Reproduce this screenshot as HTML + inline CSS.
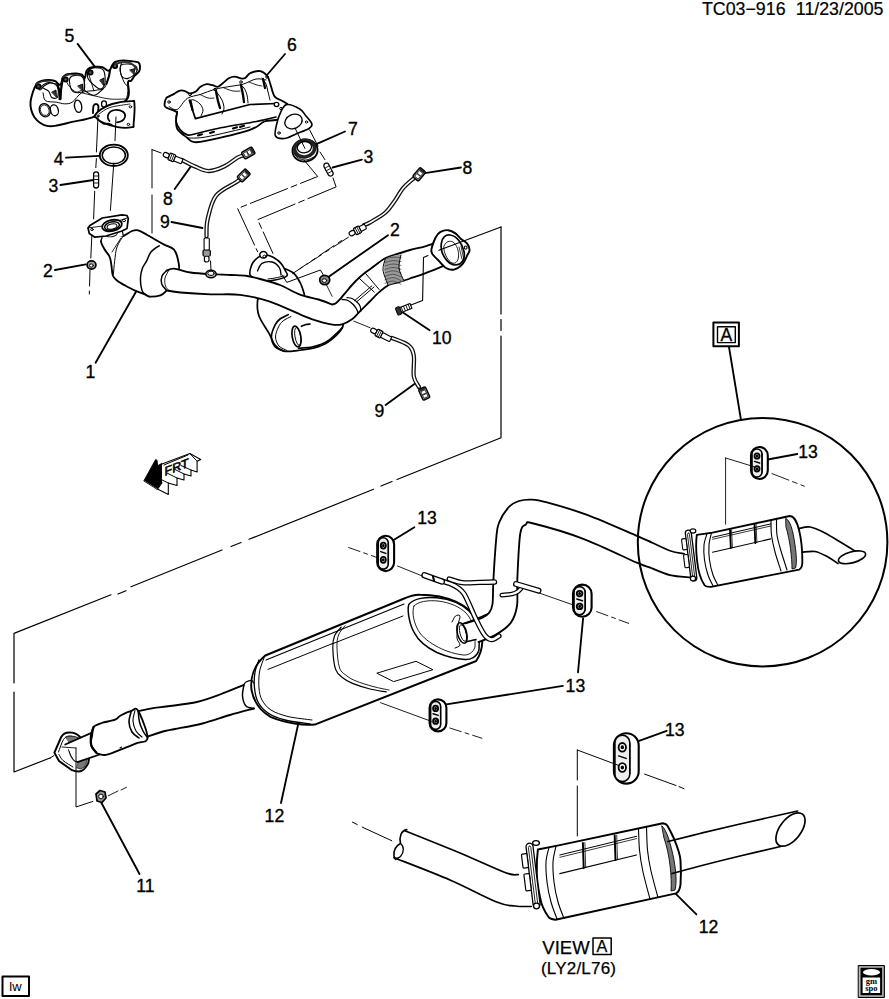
<!DOCTYPE html>
<html><head><meta charset="utf-8"><style>
html,body{margin:0;padding:0;background:#fff;width:889px;height:999px;overflow:hidden}
svg{display:block}
text{font-family:"Liberation Sans",sans-serif;fill:#000}
</style></head><body>
<svg width="889" height="999" viewBox="0 0 889 999" stroke-linecap="round" stroke-linejoin="round">
<text x="702" y="15.2" font-size="17.8" text-anchor="start" stroke="#000" stroke-width="0.2">TC03&#8722;916</text>
<text x="883.5" y="15.2" font-size="17.8" text-anchor="end" stroke="#000" stroke-width="0.2">11/23/2005</text>
<rect x="2.5" y="976.5" width="26.5" height="19.5" fill="none" stroke="#000" stroke-width="2"/>
<text x="15.5" y="990.5" font-size="13" text-anchor="middle" >lw</text>
<rect x="858.6" y="965.5" width="25.8" height="32" fill="#888" stroke="#000" stroke-width="1"/>
<rect x="860.3" y="967.2" width="22.4" height="28.6" fill="#000" stroke="#fff" stroke-width="0.7"/>
<ellipse cx="871.5" cy="972.2" rx="8.5" ry="3.2" fill="#fff"/>
<rect x="862.6" y="977.5" width="17.5" height="15.5" fill="#fff"/>
<text x="871.3" y="984.3" font-size="8.5" font-weight="bold" text-anchor="middle" style="font-family:'Liberation Serif',serif">gm</text>
<text x="871.3" y="990.6" font-size="8.5" font-weight="bold" text-anchor="middle" style="font-family:'Liberation Serif',serif">spo</text>
<text x="69.5" y="41.8" font-size="17.6" text-anchor="middle" stroke="#000" stroke-width="0.35">5</text>
<text x="292" y="50.8" font-size="17.6" text-anchor="middle" stroke="#000" stroke-width="0.35">6</text>
<text x="353" y="134.8" font-size="17.6" text-anchor="middle" stroke="#000" stroke-width="0.35">7</text>
<text x="368.5" y="162.8" font-size="17.6" text-anchor="middle" stroke="#000" stroke-width="0.35">3</text>
<text x="467.5" y="173.8" font-size="17.6" text-anchor="middle" stroke="#000" stroke-width="0.35">8</text>
<text x="395" y="235.8" font-size="17.6" text-anchor="middle" stroke="#000" stroke-width="0.35">2</text>
<text x="58.7" y="165.2" font-size="17.6" text-anchor="middle" stroke="#000" stroke-width="0.35">4</text>
<text x="53.3" y="192.2" font-size="17.6" text-anchor="middle" stroke="#000" stroke-width="0.35">3</text>
<text x="168" y="204.8" font-size="17.6" text-anchor="middle" stroke="#000" stroke-width="0.35">8</text>
<text x="165" y="227.8" font-size="17.6" text-anchor="middle" stroke="#000" stroke-width="0.35">9</text>
<text x="47.8" y="276.8" font-size="17.6" text-anchor="middle" stroke="#000" stroke-width="0.35">2</text>
<text x="90.5" y="377.8" font-size="17.6" text-anchor="middle" stroke="#000" stroke-width="0.35">1</text>
<text x="441.8" y="343.8" font-size="17.6" text-anchor="middle" stroke="#000" stroke-width="0.35">10</text>
<text x="379.3" y="417.4" font-size="17.6" text-anchor="middle" stroke="#000" stroke-width="0.35">9</text>
<text x="427" y="523.8" font-size="17.6" text-anchor="middle" stroke="#000" stroke-width="0.35">13</text>
<text x="575.4" y="692.4" font-size="17.6" text-anchor="middle" stroke="#000" stroke-width="0.35">13</text>
<text x="808" y="457.8" font-size="17.6" text-anchor="middle" stroke="#000" stroke-width="0.35">13</text>
<text x="674.8" y="736" font-size="17.6" text-anchor="middle" stroke="#000" stroke-width="0.35">13</text>
<text x="274.4" y="821.8" font-size="17.6" text-anchor="middle" stroke="#000" stroke-width="0.35">12</text>
<text x="708.5" y="932.8" font-size="17.6" text-anchor="middle" stroke="#000" stroke-width="0.35">12</text>
<text x="145.4" y="892.4" font-size="17.6" text-anchor="middle" stroke="#000" stroke-width="0.35">11</text>
<text x="566" y="953.6" font-size="18.5" text-anchor="middle" stroke="#000" stroke-width="0.25">VIEW</text>
<rect x="593" y="938" width="18.2" height="16.4" fill="none" stroke="#000" stroke-width="1.5"/>
<text x="602" y="951.9" font-size="16.2" text-anchor="middle" stroke="#000" stroke-width="0.25">A</text>
<text x="578.6" y="973.5" font-size="17" text-anchor="middle" stroke="#000" stroke-width="0.25" letter-spacing="0.2">(LY2/L76)</text>
<rect x="713.4" y="322.5" width="25.5" height="23.7" fill="none" stroke="#000" stroke-width="2"/>
<rect x="717.5" y="326.8" width="17.8" height="15.8" fill="none" stroke="#000" stroke-width="1.4"/>
<text x="726.3" y="341" font-size="17.5" text-anchor="middle" stroke="#000" stroke-width="0.3">A</text>
<path d="M77.6,43.9 L94.5,66.4" fill="none" stroke="#000" stroke-width="1.84" />
<path d="M285,54 L267,75" fill="none" stroke="#000" stroke-width="1.84" />
<path d="M345,131.5 L316.9,143.9" fill="none" stroke="#000" stroke-width="1.84" />
<path d="M361.9,159.6 L332.6,167.5" fill="none" stroke="#000" stroke-width="1.84" />
<path d="M460.9,167.5 L424.9,173.1" fill="none" stroke="#000" stroke-width="1.84" />
<path d="M388,235.2 L327.3,277.7" fill="none" stroke="#000" stroke-width="1.84" />
<path d="M66,157.6 L99.2,155.9" fill="none" stroke="#000" stroke-width="1.84" />
<path d="M60.4,185 L93.6,180" fill="none" stroke="#000" stroke-width="1.84" />
<path d="M174.7,189 L191.6,165.4" fill="none" stroke="#000" stroke-width="1.84" />
<path d="M171.5,222 L202.5,228" fill="none" stroke="#000" stroke-width="1.84" />
<path d="M55,270 L85.8,264.4" fill="none" stroke="#000" stroke-width="1.84" />
<path d="M95.6,362.8 L136.4,291" fill="none" stroke="#000" stroke-width="1.84" />
<path d="M429.6,330.3 L402.2,312.1" fill="none" stroke="#000" stroke-width="1.84" />
<path d="M385.6,405 L416.5,382.5" fill="none" stroke="#000" stroke-width="1.84" />
<path d="M414.4,527.2 L392.4,540.7" fill="none" stroke="#000" stroke-width="1.84" />
<path d="M583.1,618.4 L578,672.4" fill="none" stroke="#000" stroke-width="1.84" />
<path d="M562.9,685.9 L446.4,704.4" fill="none" stroke="#000" stroke-width="1.84" />
<path d="M797.3,454 L767.8,459.5" fill="none" stroke="#000" stroke-width="1.84" />
<path d="M666.7,730.8 L637,741.6" fill="none" stroke="#000" stroke-width="1.84" />
<path d="M281,803 L298,725" fill="none" stroke="#000" stroke-width="1.84" />
<path d="M696.4,914.4 L674.8,892.8" fill="none" stroke="#000" stroke-width="1.84" />
<path d="M101.1,802.3 L139.5,874" fill="none" stroke="#000" stroke-width="1.84" />
<path d="M729,347 L741,420" fill="none" stroke="#000" stroke-width="1.84" />
<path d="M501,226.9 L501,314" fill="none" stroke="#000" stroke-width="1.21" />
<path d="M501,336 L501,437.7 L397,479.5" fill="none" stroke="#000" stroke-width="1.21" />
<path d="M501,319.5 L501,330.5" fill="none" stroke="#000" stroke-width="1.21" />
<path d="M392,481.5 L381,486" fill="none" stroke="#000" stroke-width="1.21" />
<path d="M373.5,489.3 L249,539.3" fill="none" stroke="#000" stroke-width="1.21" />
<path d="M241,542.5 L231,546.5" fill="none" stroke="#000" stroke-width="1.21" />
<path d="M131,586.7 L222,550" fill="none" stroke="#000" stroke-width="1.21" />
<path d="M111,594.8 L14,633.4 L14,683" fill="none" stroke="#000" stroke-width="1.21" />
<path d="M14,692 L14,772 L50.6,757.8" fill="none" stroke="#000" stroke-width="1.21" />
<path d="M126,590.7 L118,594" fill="none" stroke="#000" stroke-width="1.21" />
<path d="M30.5,102.2 C30.2,105.2 30.7,107.6 31.3,110.1 C31.9,112.6 32.9,115.1 34.4,117.2 C35.9,119.3 37.9,121.2 40,122.7 C42.1,124.2 44.5,125.4 47,125.9 C49.5,126.4 50.7,126.6 54.9,125.9 C59.1,125.2 65.5,123.5 72.2,121.9 C78.9,120.3 86,120.1 95,116.4 C104,112.8 120.9,105.7 126.4,100 C131.9,94.3 127.2,85.6 128,82.4 C128.8,79.2 130.1,81.9 131.2,80.8 C132.3,79.7 133.1,77.6 134.4,76 C135.7,74.4 138.3,72.8 139.2,71.2 C140.1,69.6 140.1,67.9 140,66.4 C139.9,64.9 139.9,63.3 138.4,62.4 C136.9,61.5 133.7,61.5 131.2,61.2 C128.7,60.9 125.9,60.3 123.2,60.4 C120.5,60.5 117.1,61.1 115.2,62 C113.3,62.9 112.9,64.3 112,65.6 C111.1,66.9 110.8,69.2 110,70 C109.2,70.8 108.5,70.9 107.2,70.4 C105.9,69.9 104.3,67.8 102.4,67.2 C100.5,66.6 98.1,66.7 96,66.8 C93.9,66.9 91.2,67.3 89.6,68 C88,68.7 87.3,69.4 86.5,71 C85.7,72.6 85.6,77.2 84.8,77.8 C84,78.4 83.1,75.4 81.7,74.7 C80.3,74 78,73.6 76.2,73.5 C74.4,73.4 72.4,73.7 70.7,73.9 C69,74.1 67.3,74.1 66,74.7 C64.7,75.3 63.6,76.2 62.8,77.8 C62,79.3 61.6,82.9 61,84 C60.4,85.1 59.8,84.9 58.9,84.5 C58,84.1 56.9,82.1 55.7,81.4 C54.5,80.7 53.6,80.4 51.8,80.2 C50,80 46.9,79.9 44.7,80.2 C42.5,80.5 39.9,81.4 38.4,82.2 C36.9,83 36.9,83.3 36,84.9 C35.1,86.5 33.8,89.1 32.9,92 C32,94.9 30.8,99.2 30.5,102.2Z" fill="#fff" stroke="#000" stroke-width="1.95" />
<path d="M36,85 C36.7,85.8 38.7,89.8 40,90 C41.3,90.2 42.3,87.2 44,86 C45.7,84.8 48,83.3 50,83 C52,82.7 55,83.8 56,84" fill="none" stroke="#000" stroke-width="1.1" />
<path d="M57.3,84.1 C57.7,85.4 59.2,89.5 59.6,92 C60,94.5 59.6,97.9 59.6,99.1" fill="none" stroke="#000" stroke-width="2.3" />
<path d="M62.8,78 C62.5,80 61.4,86.5 61,90 C60.6,93.5 60.6,97.5 60.5,99" fill="none" stroke="#000" stroke-width="2.3" />
<path d="M43.1,92.8 C43.5,94.1 43.3,99.1 45.5,100.7 C47.7,102.3 53.4,101.7 56.5,102.2 C59.6,102.7 61.8,103.8 64.4,103.8 C67,103.8 69.3,104 72.2,102.2 C75.1,100.4 77.9,94.8 81.7,92.8 C85.5,90.8 91.4,91.1 95,90.4 C98.6,89.7 101.3,89.9 103.2,88.8 C105.1,87.7 105.3,86.7 106.4,84 C107.5,81.3 109.1,74.7 109.6,72.8" fill="none" stroke="#000" stroke-width="0.99" />
<path d="M84.8,77.8 C84.7,79.2 84.2,83.9 84.2,86 C84.2,88.1 83.1,88.9 84.8,90.4 C86.5,91.9 91.3,95.5 94.4,95.2 C97.5,94.9 101.7,89.9 103.2,88.8" fill="none" stroke="#000" stroke-width="1.1" />
<path d="M66,80 C66.5,81 67.3,84 69,86 C70.7,88 73.9,91.3 76,92 C78.1,92.7 80.8,90.3 81.7,90" fill="none" stroke="#000" stroke-width="0.88" />
<path d="M106.4,84 C106.8,82.7 108.4,78.3 109,76 C109.6,73.7 109.8,71 110,70" fill="none" stroke="#000" stroke-width="2.07" />
<path d="M122,62 C121.7,63.3 119.7,66.7 120,70 C120.3,73.3 122.7,79 124,82 C125.3,85 127.6,85 128,88 C128.4,91 126.7,98 126.4,100" fill="none" stroke="#000" stroke-width="0.99" />
<path d="M88,72 L94,91" fill="none" stroke="#000" stroke-width="0.88" />
<path d="M81.7,92.8 C83.9,93.3 90.3,95 95,96 C99.7,97 104.8,98.5 110,99 C115.2,99.5 123.3,99 126,99" fill="none" stroke="#000" stroke-width="0.88" />
<path d="M41.5,86.5 C41.5,85.1 46.4,83 48.6,82.6 C50.8,82.2 53.3,83 54.9,84.1 C56.5,85.1 57.7,86.7 58.1,88.9 C58.5,91.1 58.3,96.1 57.3,97.5 C56.2,98.9 53.2,98.5 51.8,97.5 C50.3,96.5 50.3,93 48.6,91.2 C46.9,89.4 41.5,87.9 41.5,86.5Z" fill="none" stroke="#000" stroke-width="1.1" />
<path d="M70.7,77 C72.4,75.4 77.9,74.8 80.1,75.5 C82.3,76.2 83.6,78.4 84.1,81 C84.6,83.6 85,89.4 83.3,91.2 C81.6,93 76,93 73.8,92 C71.6,91 70.4,87.4 69.9,84.9 C69.4,82.4 69,78.6 70.7,77Z" fill="none" stroke="#000" stroke-width="1.1" />
<path d="M89.6,69.6 C91.3,67.9 96,67.7 98.4,68 C100.8,68.3 102.9,68.5 104,71.2 C105.1,73.9 105.6,81.1 104.8,84 C104,86.9 102,89.7 99.2,88.8 C96.4,87.9 89.6,81.6 88,78.4 C86.4,75.2 87.9,71.3 89.6,69.6Z" fill="none" stroke="#000" stroke-width="1.1" />
<path d="M120.8,65.6 C121.9,63.6 125.5,63.9 128,64 C130.5,64.1 134.7,64.9 136,66.4 C137.3,67.9 137.3,70.8 136,72.8 C134.7,74.8 130.4,77.9 128,78.4 C125.6,78.9 122.8,78.1 121.6,76 C120.4,73.9 119.7,67.6 120.8,65.6Z" fill="none" stroke="#000" stroke-width="1.1" />
<path d="M52,92 L56,90 L56.5,97Z" fill="#333" stroke="#000" stroke-width="0.88" />
<path d="M78,86 L82.5,84 L82.5,90.5Z" fill="#333" stroke="#000" stroke-width="0.88" />
<path d="M100,80 L104,78 L103.5,85Z" fill="#333" stroke="#000" stroke-width="0.88" />
<path d="M130,70 L135,68.5 L134,74Z" fill="#333" stroke="#000" stroke-width="0.88" />
<ellipse cx="38.4" cy="86.5" rx="2.2" ry="2.1" fill="#555" stroke="#000" stroke-width="1.84" transform="rotate(0 38.4 86.5)" />
<ellipse cx="65.6" cy="79.4" rx="2.2" ry="2.1" fill="#555" stroke="#000" stroke-width="1.84" transform="rotate(0 65.6 79.4)" />
<ellipse cx="90.4" cy="72.5" rx="2.2" ry="2.1" fill="#555" stroke="#000" stroke-width="1.84" transform="rotate(0 90.4 72.5)" />
<ellipse cx="115" cy="66" rx="2.2" ry="2.1" fill="#555" stroke="#000" stroke-width="1.84" transform="rotate(0 115 66)" />
<path d="M115,64 C116.7,63.7 122.2,62 125,62 C127.8,62 130,62.7 132,64 C134,65.3 136.2,69 137,70" fill="none" stroke-width="1.84" stroke="#333"/>
<path d="M36,84 C37,83.6 39.7,82 42,81.5 C44.3,81 48.7,81.1 50,81" fill="none" stroke-width="1.61" stroke="#333"/>
<path d="M63,77 C64.2,76.6 67.2,74.8 70,74.5 C72.8,74.2 78.3,75.3 80,75.5" fill="none" stroke-width="1.49" stroke="#333"/>
<ellipse cx="44.8" cy="110.2" rx="5.5" ry="6.7" fill="none" stroke="#000" stroke-width="1.32" transform="rotate(-20 44.8 110.2)" />
<ellipse cx="44.8" cy="110.2" rx="4.3" ry="5.4" fill="none" stroke="#000" stroke-width="0.77" transform="rotate(-20 44.8 110.2)" />
<ellipse cx="54.4" cy="110.3" rx="3.9" ry="5.5" fill="none" stroke="#000" stroke-width="1.32" transform="rotate(-15 54.4 110.3)" />
<ellipse cx="78.1" cy="106.3" rx="3.6" ry="6.2" fill="none" stroke="#000" stroke-width="1.32" transform="rotate(-10 78.1 106.3)" />
<path d="M93,113 C93.1,111.8 93,107.5 93.5,106 C94,104.5 95.2,104 96,104 C96.8,104 98.1,104.7 98.4,106 C98.7,107.3 98.1,111 98,112" fill="none" stroke="#000" stroke-width="1.84" />
<rect x="101.6" y="100.8" width="4.8" height="6.4" rx="2.4" fill="#fff" stroke="#000" stroke-width="1.3"/>
<path d="M94.4,116 C95.2,114.7 97.9,111.6 100.8,109.6 C103.7,107.6 106.9,105.4 112,104 C117.1,102.6 127.5,101.3 131.2,101.2 C134.9,101.1 134,99.4 134.4,103.2 C134.8,107 134,120 133.6,124 C133.2,128 134.7,126.7 132,127.2 C129.3,127.7 122.5,128 117.6,127.2 C112.7,126.4 106,124 102.4,122.4 C98.8,120.8 97.3,118.7 96,117.6 C94.7,116.5 93.6,117.3 94.4,116Z" fill="#fff" stroke="#000" stroke-width="1.84" />
<path d="M99,114 C100.8,112.9 104.8,109.2 110,107.5 C115.2,105.8 126.7,104.6 130,104" fill="none" stroke="#000" stroke-width="0.88" />
<path d="M109.5,121 C106,117 108,111 115,110 C122,109.5 126,113 125,117 C124,120 121,122 117,122.3" fill="none" stroke="#000" stroke-width="1.72" />
<ellipse cx="130.4" cy="106.8" rx="1.3" ry="1.1" fill="none" stroke="#000" stroke-width="0.99" transform="rotate(0 130.4 106.8)" />
<ellipse cx="128.4" cy="124.4" rx="1.3" ry="1.1" fill="none" stroke="#000" stroke-width="0.99" transform="rotate(0 128.4 124.4)" />
<ellipse cx="98" cy="116" rx="1.1" ry="1" fill="none" stroke="#000" stroke-width="0.99" transform="rotate(0 98 116)" />
<path d="M101,122 C101.5,122.3 102.8,123.8 104,124 C105.2,124.2 106.7,123.3 108,123.5 C109.3,123.7 111.3,124.8 112,125" fill="none" stroke="#000" stroke-width="1.49" />
<path d="M116,117 L115,140.7" fill="none" stroke="#000" stroke-width="0.99" />
<path d="M113.8,163 L110.4,210.4" fill="none" stroke="#000" stroke-width="0.99" />
<path d="M98,117 L96.4,152" fill="none" stroke="#000" stroke-width="0.99" />
<path d="M96.4,158.7 L95.8,167.7" fill="none" stroke="#000" stroke-width="0.99" />
<path d="M94.7,191.3 L93.6,218.9" fill="none" stroke="#000" stroke-width="0.99" />
<path d="M92,232 L90.8,258" fill="none" stroke="#000" stroke-width="0.99" />
<path d="M90,270 L89.2,298" fill="none" stroke="#000" stroke-width="0.99" stroke-dasharray="16 5 3 5"/>
<ellipse cx="113.8" cy="155.3" rx="14" ry="10.7" fill="none" stroke="#000" stroke-width="1.84" transform="rotate(0 113.8 155.3)" />
<ellipse cx="113.8" cy="155.3" rx="11.6" ry="8.4" fill="none" stroke="#000" stroke-width="1.49" transform="rotate(0 113.8 155.3)" />
<rect x="93.6" y="171.8" width="5" height="16.2" rx="2.5" fill="#fff" stroke="#000" stroke-width="1.3"/>
<path d="M94.5,176 L97.7,176" fill="none" stroke="#000" stroke-width="0.88" />
<path d="M94.5,179.5 L97.7,179.5" fill="none" stroke="#000" stroke-width="0.88" />
<path d="M94.5,183 L97.7,183" fill="none" stroke="#000" stroke-width="0.88" />
<ellipse cx="91.5" cy="265" rx="4.4" ry="4.1" fill="#aaa" stroke="#000" stroke-width="1.72" transform="rotate(0 91.5 265)" />
<ellipse cx="91.3" cy="265.5" rx="2" ry="1.6" fill="#fff" stroke="#000" stroke-width="0.99" transform="rotate(0 91.3 265.5)" />
<path d="M101,241 C100.8,243.2 103.5,247.3 105,250 C106.5,252.7 108.6,254.3 109.7,257 C110.8,259.7 111,262.9 111.5,266 C112,269.1 111.9,273.1 112.8,275.5 C113.7,277.9 115,278.8 117,280.5 C119,282.2 122.1,283.9 125,285.5 C127.9,287.1 131.3,289 134.5,290.4 C137.7,291.8 141.9,293.1 144.4,294.1 C146.9,295.1 146.6,296.4 149.3,296.6 C152,296.8 157.5,296.3 160.4,295.3 C163.3,294.3 164.3,292.8 166.6,290.4 C168.9,288 171.9,284.5 174,281 C176.1,277.5 178.4,273.1 179,269.4 C179.6,265.7 178.6,262.3 177.8,259 C177,255.7 176.3,252 174,249.6 C171.7,247.2 167.4,246.3 164.2,244.6 C161,242.9 157.9,241.2 155,239.5 C152.1,237.8 149.6,236.2 146.8,234.7 C144,233.2 140.7,231 138.2,230.4 C135.7,229.8 134.5,230.1 132,231 C129.5,231.9 125.6,235.3 123.3,236 C121,236.7 120.9,234.8 118,235 C115.1,235.2 108.8,236 106,237 C103.2,238 101.2,238.8 101,241Z" fill="#fff" stroke="#000" stroke-width="1.84" />
<path d="M159.2,245.8 C157.8,246.8 153.1,249.5 151,252 C148.9,254.5 148.2,258 146.8,260.7 C145.4,263.4 143.5,265.3 142.5,268 C141.5,270.7 140.8,273.8 140.6,276.8 C140.3,279.8 140.6,283.4 141,286 C141.4,288.6 141.6,290.7 143,292.5 C144.4,294.3 148.2,295.9 149.3,296.6" fill="none" stroke="#000" stroke-width="1.49" />
<path d="M123.3,236 C122.2,237.8 118.4,242.9 117,247 C115.6,251.1 115.3,256.1 114.7,260.7 C114.1,265.2 113.6,272 113.4,274.3" fill="none" stroke="#000" stroke-width="0.99" />
<path d="M121,238 L112,252" fill="none" stroke="#000" stroke-width="0.88" />
<path d="M101,241 C101.5,239.7 102.3,235 104,233 C105.7,231 108.7,229.7 111,229 C113.3,228.3 116.2,228.7 118,229 C119.8,229.3 121.1,229.8 122,231 C122.9,232.2 123.1,235.2 123.3,236" fill="#fff" stroke="#000" stroke-width="1.21" />
<ellipse cx="111.5" cy="233.5" rx="6" ry="3.2" fill="none" stroke="#000" stroke-width="0.99" transform="rotate(-10 111.5 233.5)" />
<path d="M88,227.9 L89.9,225.4 L102.3,218 L122,214.9 L127,215.5 L128.3,218.6 L127,228.5 L122,231 L106,236 L94.9,237.2 L89.3,233.5Z" fill="#fff" stroke="#000" stroke-width="1.72" />
<path d="M88,227.9 L103,226 L127,218" fill="none" stroke="#000" stroke-width="0.88" />
<ellipse cx="112" cy="225.5" rx="10" ry="5.5" fill="#fff" stroke="#000" stroke-width="1.84" transform="rotate(-12 112 225.5)" />
<ellipse cx="112" cy="226" rx="7.5" ry="4" fill="none" stroke="#000" stroke-width="1.49" transform="rotate(-12 112 226)" />
<ellipse cx="112" cy="226.5" rx="5" ry="2.6" fill="none" stroke="#000" stroke-width="0.99" transform="rotate(-12 112 226.5)" />
<ellipse cx="124" cy="220.5" rx="1.6" ry="1.2" fill="none" stroke="#000" stroke-width="0.99" transform="rotate(0 124 220.5)" />
<ellipse cx="92" cy="229.5" rx="1.3" ry="1.1" fill="none" stroke="#000" stroke-width="0.99" transform="rotate(0 92 229.5)" />
<path d="M164.6,105.5 C164.4,103.9 165.3,99.9 166.1,98.4 C166.8,96.9 167.9,97.1 169.1,96.4 C170.3,95.7 171.5,95.3 173.2,94.4 C174.9,93.5 177.3,91.4 179.2,90.8 C181,90.2 182.6,90.4 184.3,90.8 C186,91.2 187.6,93.1 189.4,93.3 C191.2,93.5 193.6,92.9 195.4,91.8 C197.2,90.7 198.6,88.1 200.5,86.8 C202.4,85.5 204.6,84.5 206.6,84.2 C208.6,83.9 210.8,84.8 212.6,85.2 C214.4,85.6 216,87.1 217.7,86.8 C219.4,86.5 221,84.6 222.8,83.2 C224.7,81.8 226.8,79.3 228.8,78.2 C230.8,77.1 233,76.6 234.9,76.6 C236.8,76.6 238.3,77.9 240,78.2 C241.7,78.5 243.3,79 245,78.2 C246.7,77.4 247.6,74.4 250.2,73.2 C252.8,72 257.4,70.6 260.3,71.1 C263.2,71.6 265.7,74 267.4,76.2 C269.1,78.4 269.2,80.9 270.4,84.3 C271.6,87.7 272.6,93.7 274.5,96.4 C276.4,99.1 279.1,99 281.5,100.5 C283.9,102 287.2,103 288.6,105.6 C290,108.2 292.1,113.6 290,116 C287.9,118.4 280.3,119.1 276,120 C271.7,120.9 268.6,119.9 264.3,121.5 C260,123.1 259.8,126.6 250,129.8 C240.2,133 215,138.9 205.6,140.9 C196.2,142.9 196.4,142.4 193.4,141.9 C190.4,141.4 190,140.1 187.3,137.9 C184.6,135.7 179,132.2 177.2,128.8 C175.3,125.4 176.3,120.4 176.2,117.6 C176.1,114.8 178,113.6 176.5,112 C175,110.4 169,109.1 167,108 C165,106.9 164.8,107.1 164.6,105.5Z" fill="#fff" stroke="#000" stroke-width="1.84" />
<path d="M169.1,106.5 C170.4,107 174.2,110.8 177.2,109.5 C180.2,108.2 183.4,100.9 187.3,98.4 C191.2,95.9 195.9,95.9 200.5,94.4 C205.1,92.9 209.6,90.7 214.7,89.3 C219.8,87.9 226.2,87.1 230.9,86.3 C235.6,85.5 238.8,85.4 243,84.2 C247.2,83 252.2,79.7 256,79 C259.8,78.3 264.3,79.8 266,80" fill="none" stroke="#000" stroke-width="0.99" />
<path d="M189.4,100.4 L195.4,118.7 L250,104.5 L276.5,103.5" fill="none" stroke="#000" stroke-width="1.72" />
<path d="M177.2,111.6 C177,113.3 175.7,118.7 176.2,121.7 C176.7,124.7 178.3,127.6 180.2,129.8 C182,132 184.8,134.2 187.3,134.9 C189.8,135.6 189.8,135 195.4,133.8 C201,132.6 211.6,129.7 220.7,127.8 C229.8,125.9 242.7,124 250,122.7 C257.3,121.4 260,120.7 264.3,119.7 C268.6,118.8 274.1,117.5 276,117" fill="none" stroke="#000" stroke-width="1.61" />
<path d="M187.3,137.9 C190.4,137.8 195.2,138.8 205.6,137 C216,135.2 242.6,128.7 250,127" fill="none" stroke="#000" stroke-width="0.99" />
<path d="M198,135.5 L202,134.3" fill="none" stroke="#000" stroke-width="2.07" />
<path d="M210,133 L214,131.8" fill="none" stroke="#000" stroke-width="2.07" />
<path d="M233,128.5 L237,127.3" fill="none" stroke="#000" stroke-width="2.07" />
<path d="M240,127 L244,125.8" fill="none" stroke="#000" stroke-width="2.07" />
<path d="M189.4,100.4 C190.2,100.3 192.2,99.4 194,100 C195.8,100.6 198.5,102.3 200,104 C201.5,105.7 202.8,108 203,110 C203.2,112 201.3,115 201,116" fill="none" stroke="#000" stroke-width="0.99" />
<path d="M215,90 C215.5,90.7 216.8,92.3 218,94 C219.2,95.7 221,97.7 222,100 C223,102.3 224,105.7 224,108 C224,110.3 222.3,113 222,114" fill="none" stroke="#000" stroke-width="0.99" />
<path d="M240,84 C240.7,84.7 242.8,86.2 244,88 C245.2,89.8 246.3,92.5 247,95 C247.7,97.5 247.8,101.7 248,103" fill="none" stroke="#000" stroke-width="0.99" />
<path d="M262,78 C262.7,79 265,81.7 266,84 C267,86.3 267.3,89.3 268,92 C268.7,94.7 269.7,98.7 270,100" fill="none" stroke="#000" stroke-width="0.99" />
<path d="M190.5,101 L192.5,110" fill="none" stroke="#000" stroke-width="2.3" />
<path d="M216,91 C216.3,92.7 217.3,98.2 218,101 C218.7,103.8 219.7,106.8 220,108" fill="none" stroke="#000" stroke-width="2.3" />
<path d="M241,85 C241.3,86.7 242.5,92.2 243,95 C243.5,97.8 243.8,100.8 244,102" fill="none" stroke="#000" stroke-width="2.3" />
<path d="M263,79 L265,88" fill="none" stroke="#000" stroke-width="2.3" />
<path d="M200,94.5 C201.3,95.1 205.7,97.4 208,98 C210.3,98.6 213,98 214,98" fill="none" stroke="#000" stroke-width="0.88" />
<path d="M224,88 C225.5,88.5 230.3,90.5 233,91 C235.7,91.5 238.8,91 240,91" fill="none" stroke="#000" stroke-width="0.88" />
<path d="M249,82 C250.3,82.5 254.8,84.3 257,85 C259.2,85.7 261.2,85.8 262,86" fill="none" stroke="#000" stroke-width="0.88" />
<ellipse cx="169" cy="102" rx="1.3" ry="1.2" fill="none" stroke="#000" stroke-width="0.99" transform="rotate(0 169 102)" />
<ellipse cx="190" cy="94.5" rx="1.3" ry="1.2" fill="none" stroke="#000" stroke-width="0.99" transform="rotate(0 190 94.5)" />
<ellipse cx="215" cy="89.5" rx="1.3" ry="1.2" fill="none" stroke="#000" stroke-width="0.99" transform="rotate(0 215 89.5)" />
<ellipse cx="241" cy="82" rx="1.3" ry="1.2" fill="none" stroke="#000" stroke-width="0.99" transform="rotate(0 241 82)" />
<ellipse cx="267" cy="77" rx="1.3" ry="1.2" fill="none" stroke="#000" stroke-width="0.99" transform="rotate(0 267 77)" />
<path d="M286.6,104.6 C289.8,104 296.6,107.1 299.8,109 C303,110.9 304,113.5 306,116 C308,118.5 311.4,121.9 311.9,124 C312.4,126.1 311.6,126.8 309,128.5 C306.4,130.2 300.1,132.3 296,134 C291.9,135.7 288,138.2 284.6,138.5 C281.2,138.8 276.9,138.3 275.5,136 C274.1,133.7 275.7,128.7 276.5,124.8 C277.3,120.9 278.8,116 280.5,112.6 C282.2,109.2 283.4,105.2 286.6,104.6Z" fill="#fff" stroke="#000" stroke-width="1.61" />
<ellipse cx="293.5" cy="121.5" rx="9" ry="7" fill="none" stroke="#000" stroke-width="1.32" transform="rotate(-25 293.5 121.5)" />
<ellipse cx="281" cy="108.5" rx="1.3" ry="1.2" fill="none" stroke="#000" stroke-width="0.99" transform="rotate(0 281 108.5)" />
<ellipse cx="279" cy="133" rx="1.3" ry="1.2" fill="none" stroke="#000" stroke-width="0.99" transform="rotate(0 279 133)" />
<ellipse cx="306.5" cy="122" rx="1.2" ry="1.1" fill="none" stroke="#000" stroke-width="0.99" transform="rotate(0 306.5 122)" />
<ellipse cx="276.5" cy="104.5" rx="2.3" ry="2.1" fill="#fff" stroke="#000" stroke-width="1.32" transform="rotate(0 276.5 104.5)" />
<ellipse cx="305" cy="150.5" rx="12.6" ry="11" fill="#fff" stroke="#000" stroke-width="1.84" transform="rotate(-10 305 150.5)" />
<ellipse cx="304.6" cy="148.6" rx="10" ry="8.3" fill="none" stroke-width="3.68" transform="rotate(-10 304.6 148.6)" stroke="#222"/>
<ellipse cx="304.4" cy="147.2" rx="7.2" ry="5.6" fill="none" stroke="#000" stroke-width="1.32" transform="rotate(-10 304.4 147.2)" />
<path d="M294,153 C294.7,153.8 296,156.8 298,158 C300,159.2 303.3,160.2 306,160 C308.7,159.8 312.7,157.5 314,157" fill="none" stroke="#000" stroke-width="0.88" />
<path d="M295,128 L304.9,148.4" fill="none" stroke="#000" stroke-width="0.99" />
<path d="M304,160 L317.7,176.5 L237.6,208.5 L257.6,251.7" fill="none" stroke="#000" stroke-width="0.99" stroke-dasharray="40 4 6 4"/>
<path d="M309.7,130 L318,146" fill="none" stroke="#000" stroke-width="0.99" />
<path d="M320,152 L324.9,159.6" fill="none" stroke="#000" stroke-width="0.99" />
<path d="M333,178 L336.1,186.9 L257.6,219.7 L272.9,253.3" fill="none" stroke="#000" stroke-width="0.99" stroke-dasharray="40 4 6 4"/>
<rect x="-7" y="-2.6" width="14" height="5.2" rx="2.6" fill="#fff" stroke="#000" stroke-width="1.3" transform="translate(328.5 169.6) rotate(62)"/>
<line x1="-3" y1="-1.8" x2="-3" y2="1.8" stroke="#000" stroke-width="0.8" transform="translate(328.5 169.6) rotate(62)"/>
<line x1="0" y1="-1.8" x2="0" y2="1.8" stroke="#000" stroke-width="0.8" transform="translate(328.5 169.6) rotate(62)"/>
<line x1="3" y1="-1.8" x2="3" y2="1.8" stroke="#000" stroke-width="0.8" transform="translate(328.5 169.6) rotate(62)"/>
<path d="M257.5,301.4 C257,306.6 257.1,310.6 259,316 C260.9,321.4 266.5,328.7 269.2,333.6 C271.9,338.5 272.7,342.4 275.1,345.3 C277.6,348.2 280,350.2 283.9,351.1 C287.8,352 293.6,350.9 298.5,350.4 C303.4,349.9 308.2,349.5 313.1,348.2 C318,346.9 322.8,345.8 327.7,342.4 C332.6,339 340.7,331.8 342.4,327.7 C344.1,323.6 344.1,322.6 338,318 C331.9,313.4 311.6,304 306,300 C300.4,296 305.3,297 304.3,294.1 C303.3,291.2 302.1,286.1 300,282.4 C297.9,278.7 296.2,274.4 292,272 C287.8,269.6 280,265.8 275,268 C270,270.2 264.9,279.4 262,285 C259.1,290.6 258,296.2 257.5,301.4Z" fill="#fff" stroke="#000" stroke-width="1.72" />
<path d="M288.3,314.6 C286.9,315.3 282.2,317.3 280,319 C277.8,320.7 276.5,321.9 275.1,324.8 C273.7,327.7 271.4,332.8 271.4,336.5 C271.4,340.2 273,344.4 275.1,346.8 C277.2,349.2 282.4,350.4 283.9,351.1" fill="none" stroke="#000" stroke-width="1.61" />
<path d="M291,316.5 C289.7,317.2 285.1,319.2 283,321 C280.9,322.8 279.8,324.3 278.5,327 C277.2,329.7 275.4,333.8 275.5,337 C275.6,340.2 277.1,343.8 279,346 C280.9,348.2 285.7,349.8 287,350.5" fill="none" stroke="#000" stroke-width="0.99" />
<path d="M301.4,326.3 C305,325 310,324.8 316,323.4 L342,324.3 C338,333 333,338 327.7,341 C320,345 313,346.8 298.5,348.2Z" fill="#fff" stroke-width="0.0" stroke="none"/>
<path d="M301.4,326.3 C302.2,326 304.6,324.9 306,324.5 C307.4,324.1 309.3,324.1 310,324" fill="none" stroke="#000" stroke-width="1.61" />
<path d="M298.5,348.2 C300.9,348 308.1,348 313,346.8 C317.9,345.6 322.8,344.2 327.7,341 C332.6,337.8 339.9,329.9 342.4,327.7" fill="none" stroke="#000" stroke-width="1.61" />
<ellipse cx="296.5" cy="336.5" rx="4.3" ry="10.5" fill="#fff" stroke="#000" stroke-width="1.61" transform="rotate(-10 296.5 336.5)" />
<ellipse cx="297.8" cy="336.5" rx="2.8" ry="9" fill="none" stroke="#000" stroke-width="0.88" transform="rotate(-10 297.8 336.5)" />
<path d="M250.2,275.1 C248.8,272.4 250.7,267.6 251.7,264.9 C252.7,262.2 254.6,260.5 256.1,259 C257.6,257.5 258.9,256.8 260.5,256.1 C262.1,255.4 263.8,254.8 266,255 C268.2,255.2 271.1,256.1 273.6,257.5 C276.1,258.9 279.1,261.2 281,263.4 C282.9,265.6 284.3,268.6 285.3,270.7 C286.3,272.8 288.5,274.4 286.8,276 C285.1,277.6 279.5,279.2 275,280 C270.5,280.8 264.1,281.8 260,281 C255.9,280.2 251.6,277.8 250.2,275.1Z" fill="#fff" stroke="#000" stroke-width="1.61" />
<ellipse cx="263.4" cy="254.8" rx="3.6" ry="3.3" fill="#fff" stroke="#000" stroke-width="1.49" transform="rotate(0 263.4 254.8)" />
<ellipse cx="264.5" cy="256.5" rx="1.5" ry="1.3" fill="none" stroke="#000" stroke-width="0.99" transform="rotate(0 264.5 256.5)" />
<path d="M257.5,271 C258.2,269.7 259.6,264.9 262,263.4 C264.4,261.9 269.3,261.3 272.2,262 C275.1,262.7 278,265.6 279.5,267.8 C281,270 280.8,273.8 281,275" fill="none" stroke="#000" stroke-width="1.32" />
<path d="M268,279 C269.2,278.8 272.3,278.5 275,278 C277.7,277.5 282.5,276.3 284,276" fill="none" stroke="#000" stroke-width="0.99" />
<path d="M282.4,275.1 L286.8,282.4 L320.4,270 L323.4,275.1" fill="none" stroke="#000" stroke-width="0.99" />
<path d="M292.6,273.6 L342.4,240" fill="none" stroke="#000" stroke-width="0.99" stroke-dasharray="18 5 4 5"/>
<ellipse cx="324.7" cy="280" rx="5" ry="4.6" fill="#888" stroke="#000" stroke-width="1.72" transform="rotate(0 324.7 280)" />
<ellipse cx="324.4" cy="280.6" rx="2.3" ry="1.8" fill="#fff" stroke="#000" stroke-width="0.99" transform="rotate(0 324.4 280.6)" />
<path d="M326.3,284.5 L332.1,296.3" fill="none" stroke="#000" stroke-width="0.88" />
<path d="M166.6,270.6 C167.8,270.3 170,268.3 174,268.6 C178,268.9 184.4,271.6 190.5,272.5 C196.6,273.4 203.9,273.8 210.7,274.2 C217.4,274.6 224.9,274.7 231,275 C237.1,275.3 242,275.2 247.2,276 C252.3,276.8 256.4,278 261.9,279.5 C267.4,281 273.6,282.5 280,285 C286.4,287.5 293.6,292.2 300,294.6 C306.4,297 313.2,297.9 318.6,299.5 C324,301.1 329.9,303.7 332.2,304.5 L332.2,304.5 C332.8,304.3 334.5,304.2 335.9,303.2 C337.3,302.2 338.9,300.4 340.8,298.3 C342.7,296.2 344.5,293.7 347,290.8 C349.5,287.9 352.6,284.1 355.7,281 C358.8,277.9 362.5,274.8 365.6,272.3 C368.7,269.8 371.2,268.4 374.3,266.1 C377.4,263.8 380.9,260.6 384.2,258.7 C387.5,256.8 389.7,256.4 394,255 C398.3,253.6 404.9,251.4 410,250 C415.1,248.6 420.2,247.8 424.4,246.6 C428.6,245.4 433.4,243.6 435.2,243 L442.4,266.4 L442.4,266.4 C439.4,267.6 429.8,271.6 424.4,273.6 C419,275.6 414.2,277.1 410,278.5 C405.8,279.9 402.5,281.2 399,282.2 C395.5,283.2 392.4,283 389.1,284.7 C385.8,286.4 382.5,289.2 379.2,292.1 C375.9,295 372.6,298.7 369.3,302 C366,305.3 362.3,309 359.4,311.9 C356.5,314.8 354.9,317.2 352,319.3 C349.1,321.4 345.5,323.5 342,324.3 C338.5,325.1 335.9,325.1 331,324.3 C326.1,323.5 317.6,321 312.4,319.3 C307.2,317.6 307.2,317.4 300,314.4 C292.8,311.4 279.2,304.7 269.2,301.4 C259.2,298.1 249.8,296 240,294.8 C230.2,293.6 220.6,294.7 210.7,294.3 C200.8,293.9 187.8,293.1 180.4,292.5 C173.1,291.9 168.9,290.8 166.6,290.4Z" fill="#fff" stroke-width="0.0" stroke="none"/>
<path d="M166.6,270.6 C167.8,270.3 170,268.3 174,268.6 C178,268.9 184.4,271.6 190.5,272.5 C196.6,273.4 203.9,273.8 210.7,274.2 C217.4,274.6 224.9,274.7 231,275 C237.1,275.3 242,275.2 247.2,276 C252.3,276.8 256.4,278 261.9,279.5 C267.4,281 273.6,282.5 280,285 C286.4,287.5 293.6,292.2 300,294.6 C306.4,297 313.2,297.9 318.6,299.5 C324,301.1 329.9,303.7 332.2,304.5" fill="none" stroke="#000" stroke-width="1.84" />
<path d="M332.2,304.5 C332.8,304.3 334.5,304.2 335.9,303.2 C337.3,302.2 338.9,300.4 340.8,298.3 C342.7,296.2 344.5,293.7 347,290.8 C349.5,287.9 352.6,284.1 355.7,281 C358.8,277.9 362.5,274.8 365.6,272.3 C368.7,269.8 371.2,268.4 374.3,266.1 C377.4,263.8 380.9,260.6 384.2,258.7 C387.5,256.8 389.7,256.4 394,255 C398.3,253.6 404.9,251.4 410,250 C415.1,248.6 420.2,247.8 424.4,246.6 C428.6,245.4 433.4,243.6 435.2,243" fill="none" stroke="#000" stroke-width="1.84" />
<path d="M166.6,290.4 C168.9,290.8 173.1,291.9 180.4,292.5 C187.8,293.1 200.8,293.9 210.7,294.3 C220.6,294.7 230.2,293.6 240,294.8 C249.8,296 259.2,298.1 269.2,301.4 C279.2,304.7 292.8,311.4 300,314.4 C307.2,317.4 307.2,317.6 312.4,319.3 C317.6,321 326.1,323.5 331,324.3 C335.9,325.1 338.5,325.1 342,324.3 C345.5,323.5 349.1,321.4 352,319.3 C354.9,317.2 356.5,314.8 359.4,311.9 C362.3,309 366,305.3 369.3,302 C372.6,298.7 375.9,295 379.2,292.1 C382.5,289.2 385.8,286.4 389.1,284.7 C392.4,283 395.5,283.2 399,282.2 C402.5,281.2 405.8,279.9 410,278.5 C414.2,277.1 419,275.6 424.4,273.6 C429.8,271.6 439.4,267.6 442.4,266.4" fill="none" stroke="#000" stroke-width="1.84" />
<path d="M166.6,270.6 C165.8,271.5 162.8,273.8 162,276 C161.2,278.2 160.9,281.6 161.7,284 C162.5,286.4 165.8,289.3 166.6,290.4" fill="none" stroke="#000" stroke-width="1.49" />
<path d="M169,270 C168.3,271.3 165.6,275.3 165,278 C164.4,280.7 164.8,283.9 165.5,286 C166.2,288.1 168.4,289.8 169,290.5" fill="none" stroke="#000" stroke-width="0.88" />
<ellipse cx="211" cy="274" rx="5.2" ry="3.8" fill="#bbb" stroke="#000" stroke-width="1.49" transform="rotate(0 211 274)" />
<ellipse cx="211" cy="273.3" rx="3.2" ry="2.2" fill="#fff" stroke="#000" stroke-width="0.99" transform="rotate(0 211 273.3)" />
<path d="M210.5,261 L211,270" fill="none" stroke="#000" stroke-width="0.99" />
<path d="M385.4,258.5 C392,255.5 398,254.5 401,255 C398,264 399,273 404,281 C398,282 392,283.5 388,285 C384,276 383,266 385.4,258.5Z" fill="#999" stroke="none"/>
<path d="M385,259 C386.3,258.7 390.3,257.4 393,257.2 C395.7,257 399.7,257.7 401,257.8" fill="none" stroke-width="0.66" stroke="#333"/>
<path d="M385,262.5 C386.3,262.2 390.3,260.7 393,260.6 C395.7,260.5 399.7,261.4 401,261.6" fill="none" stroke-width="0.66" stroke="#333"/>
<path d="M385,266 C386.3,265.6 390.3,264.1 393,264 C395.7,263.9 399.7,265.2 401,265.4" fill="none" stroke-width="0.66" stroke="#333"/>
<path d="M385,269.5 C386.3,269.1 390.3,267.4 393,267.4 C395.7,267.4 399.7,268.9 401,269.2" fill="none" stroke-width="0.66" stroke="#333"/>
<path d="M385,272.9 C386.3,272.6 390.3,270.8 393,270.8 C395.7,270.8 399.7,272.6 401,273" fill="none" stroke-width="0.66" stroke="#333"/>
<path d="M385,276.4 C386.3,276.1 390.3,274.1 393,274.2 C395.7,274.3 399.7,276.4 401,276.8" fill="none" stroke-width="0.66" stroke="#333"/>
<path d="M385,279.9 C386.3,279.5 390.3,277.5 393,277.6 C395.7,277.7 399.7,280.1 401,280.6" fill="none" stroke-width="0.66" stroke="#333"/>
<path d="M385,283.4 C386.3,283 390.3,280.8 393,281 C395.7,281.2 399.7,283.8 401,284.4" fill="none" stroke-width="0.66" stroke="#333"/>
<path d="M385.4,258.5 C385,260.4 382.6,265.6 383,270 C383.4,274.4 387.2,282.5 388,285" fill="none" stroke="#000" stroke-width="0.99" />
<path d="M401,255 C400.7,257.2 398.5,263.7 399,268 C399.5,272.3 403.2,278.8 404,281" fill="none" stroke="#000" stroke-width="0.99" />
<path d="M342,299.5 C343,299.7 346.1,299.7 348,300.5 C349.9,301.3 351.8,303.1 353.2,304.5 C354.6,305.9 355.7,307.6 356.5,309 C357.3,310.4 357.9,312.4 358.2,313.1" fill="none" stroke="#000" stroke-width="1.32" />
<path d="M347,297.6 C347.8,297.8 350.3,297.8 352,298.5 C353.7,299.2 355.7,300.8 357,302 C358.3,303.2 359.3,304.5 360,306 C360.7,307.5 360.8,310.2 361,311" fill="none" stroke="#000" stroke-width="1.21" />
<path d="M359.4,278.5 L374.3,292.1" fill="none" stroke="#000" stroke-width="0.99" />
<path d="M365.6,273.5 L379.2,289.6" fill="none" stroke="#000" stroke-width="0.99" />
<path d="M354.5,300.7 L371.8,285.9" fill="none" stroke="#000" stroke-width="0.99" />
<path d="M356.5,302 L374,287" fill="none" stroke="#000" stroke-width="0.99" />
<path d="M431.4,251.5 C430.9,247.6 434.2,240.6 435.7,237.3 C437.2,234 438.4,233 440.5,231.8 C442.6,230.6 445.8,229.9 448.3,230.2 C450.8,230.5 453.3,231.9 455.4,233.4 C457.5,234.9 459,237.2 461,238.9 C463,240.6 465.8,241.8 467.2,243.6 C468.6,245.4 469.6,247.9 469.6,249.9 C469.6,251.9 468.4,253 467.2,255.4 C466,257.8 464.7,261.7 462.5,264.1 C460.3,266.5 456.6,269 453.9,269.6 C451.1,270.2 448.5,269.4 446,268 C443.5,266.6 441.3,263.6 438.9,260.9 C436.5,258.1 431.9,255.4 431.4,251.5Z" fill="#fff" stroke="#000" stroke-width="1.95" />
<path d="M441.3,243.6 C442,237 446,234.5 450,235 C457,236 462,243 464,251.5 C465.5,259 462,265 455,265 C449,264.5 444,258 442,252 C441,249 441,246 441.3,243.6Z" fill="none" stroke="#000" stroke-width="1.72" />
<path d="M444,246 C446,241 450,240.5 453,242 C457,245 459,251 458.5,257 C458,262 455,264 452,263 C448,261 445,255 444,250Z" fill="none" stroke="#000" stroke-width="0.88" />
<path d="M459,247 L462,259" fill="none" stroke="#000" stroke-width="0.77" />
<path d="M461,246 L463.5,258" fill="none" stroke="#000" stroke-width="0.77" />
<ellipse cx="465.7" cy="247.6" rx="1.4" ry="1.6" fill="none" stroke="#000" stroke-width="1.1" transform="rotate(0 465.7 247.6)" />
<path d="M438.9,250.3 L501,226.9" fill="none" stroke="#000" stroke-width="1.1" />
<path d="M428,255.6 L423.5,257.4 L422.6,300.6 L410.9,305.1" fill="none" stroke="#000" stroke-width="1.1" />
<g transform="translate(404 308.7) rotate(-22)"><rect x="-4" y="-2.6" width="11.5" height="5.2" fill="#fff" stroke="#000" stroke-width="1.1"/><line x1="-2" y1="-2.6" x2="-2" y2="2.6" stroke="#000" stroke-width="0.8"/><line x1="0.5" y1="-2.6" x2="0.5" y2="2.6" stroke="#000" stroke-width="0.8"/><line x1="3" y1="-2.6" x2="3" y2="2.6" stroke="#000" stroke-width="0.8"/><line x1="5.5" y1="-2.6" x2="5.5" y2="2.6" stroke="#000" stroke-width="0.8"/><rect x="-8" y="-4" width="4.5" height="8" rx="1.5" fill="#333" stroke="#000" stroke-width="1"/></g>
<path d="M182,160 C184.2,161.1 190.6,164.7 195,166.5 C199.4,168.3 203.7,171 208.5,171 C213.3,171 219.1,168.8 224,166.5 C228.9,164.2 234.3,159.4 237.7,157.5 C241.1,155.6 243.4,155.6 244.5,155.2" fill="none" stroke-width="4.25" stroke="#111"/>
<path d="M182,160 C184.2,161.1 190.6,164.7 195,166.5 C199.4,168.3 203.7,171 208.5,171 C213.3,171 219.1,168.8 224,166.5 C228.9,164.2 234.3,159.4 237.7,157.5 C241.1,155.6 243.4,155.6 244.5,155.2" fill="none" stroke-width="1.61" stroke="#fff"/>
<g transform="translate(163.5 154) rotate(22)"><rect x="0" y="-2.3" width="6" height="4.6" rx="2" fill="#fff" stroke="#000" stroke-width="1.2"/><rect x="6" y="-3.6" width="6" height="7.2" rx="1" fill="#fff" stroke="#000" stroke-width="1.2"/><line x1="8" y1="-3.6" x2="8" y2="3.6" stroke="#000" stroke-width="0.8"/><line x1="10" y1="-3.6" x2="10" y2="3.6" stroke="#000" stroke-width="0.8"/><rect x="12" y="-2.6" width="8" height="5.2" rx="1" fill="#fff" stroke="#000" stroke-width="1.1"/></g>
<g transform="translate(248.3 153) rotate(-30)"><rect x="-6" y="-3.8" width="12" height="7.6" rx="1.5" fill="#999" stroke="#000" stroke-width="1.4"/><rect x="-4" y="-2.2" width="3" height="4.4" fill="#fff" stroke="#000" stroke-width="0.6"/><rect x="0" y="-2.2" width="3" height="4.4" fill="#fff" stroke="#000" stroke-width="0.6"/><rect x="3.5" y="-3" width="2" height="6" fill="#222"/></g>
<path d="M152,149.6 L161.2,153" fill="none" stroke="#000" stroke-width="0.99" />
<path d="M152,149.6 L152,188" fill="none" stroke="#000" stroke-width="0.99" />
<path d="M152,195 L152,233" fill="none" stroke="#000" stroke-width="0.99" />
<path d="M243,177 C241.9,177.9 240.7,179.1 236.2,182.2 C231.7,185.3 220.8,189.5 216,195.7 C211.2,201.9 209.2,212.7 207.6,219.4 C206,226.2 206.7,233.4 206.5,236.2" fill="none" stroke-width="4.25" stroke="#111"/>
<path d="M243,177 C241.9,177.9 240.7,179.1 236.2,182.2 C231.7,185.3 220.8,189.5 216,195.7 C211.2,201.9 209.2,212.7 207.6,219.4 C206,226.2 206.7,233.4 206.5,236.2" fill="none" stroke-width="1.61" stroke="#fff"/>
<g transform="translate(206.7 262) rotate(-90)"><rect x="0" y="-2.3" width="6" height="4.6" rx="2" fill="#fff" stroke="#000" stroke-width="1.2"/><rect x="6" y="-3.6" width="6" height="7.2" rx="1" fill="#fff" stroke="#000" stroke-width="1.2"/><line x1="8" y1="-3.6" x2="8" y2="3.6" stroke="#000" stroke-width="0.8"/><line x1="10" y1="-3.6" x2="10" y2="3.6" stroke="#000" stroke-width="0.8"/><rect x="12" y="-2.6" width="12" height="5.2" rx="1" fill="#fff" stroke="#000" stroke-width="1.1"/></g>
<g transform="translate(243.7 175.5) rotate(-45)"><rect x="-6" y="-3.8" width="12" height="7.6" rx="1.5" fill="#999" stroke="#000" stroke-width="1.4"/><rect x="-4" y="-2.2" width="3" height="4.4" fill="#fff" stroke="#000" stroke-width="0.6"/><rect x="0" y="-2.2" width="3" height="4.4" fill="#fff" stroke="#000" stroke-width="0.6"/><rect x="3.5" y="-3" width="2" height="6" fill="#222"/></g>
<path d="M418,176 C417.4,176.3 417.1,175.7 414.7,177.6 C412.3,179.5 406.9,183.8 403.5,187.7 C400.1,191.6 397.5,197.1 394.5,201.2 C391.5,205.3 389.6,208.9 385.5,212.5 C381.4,216.1 373.3,220.5 369.7,222.6 C366.1,224.7 364.9,224.6 364,225" fill="none" stroke-width="4.25" stroke="#111"/>
<path d="M418,176 C417.4,176.3 417.1,175.7 414.7,177.6 C412.3,179.5 406.9,183.8 403.5,187.7 C400.1,191.6 397.5,197.1 394.5,201.2 C391.5,205.3 389.6,208.9 385.5,212.5 C381.4,216.1 373.3,220.5 369.7,222.6 C366.1,224.7 364.9,224.6 364,225" fill="none" stroke-width="1.61" stroke="#fff"/>
<g transform="translate(349.5 234.5) rotate(-27)"><rect x="0" y="-2.3" width="6" height="4.6" rx="2" fill="#fff" stroke="#000" stroke-width="1.2"/><rect x="6" y="-3.6" width="6" height="7.2" rx="1" fill="#fff" stroke="#000" stroke-width="1.2"/><line x1="8" y1="-3.6" x2="8" y2="3.6" stroke="#000" stroke-width="0.8"/><line x1="10" y1="-3.6" x2="10" y2="3.6" stroke="#000" stroke-width="0.8"/><rect x="12" y="-2.6" width="6" height="5.2" rx="1" fill="#fff" stroke="#000" stroke-width="1.1"/></g>
<g transform="translate(419.2 174.3) rotate(-50)"><rect x="-6" y="-3.8" width="12" height="7.6" rx="1.5" fill="#999" stroke="#000" stroke-width="1.4"/><rect x="-4" y="-2.2" width="3" height="4.4" fill="#fff" stroke="#000" stroke-width="0.6"/><rect x="0" y="-2.2" width="3" height="4.4" fill="#fff" stroke="#000" stroke-width="0.6"/><rect x="3.5" y="-3" width="2" height="6" fill="#222"/></g>
<path d="M348.4,237.2 L300,268.7" fill="none" stroke="#000" stroke-width="0.99" stroke-dasharray="18 5 4 5"/>
<path d="M392,338 C394.8,339.2 405,342.4 408.6,345.3 C412.2,348.2 412.9,350.5 413.8,355.7 C414.7,360.9 412.9,371.3 413.8,376.5 C414.7,381.7 418.1,385.2 419,387" fill="none" stroke-width="4.25" stroke="#111"/>
<path d="M392,338 C394.8,339.2 405,342.4 408.6,345.3 C412.2,348.2 412.9,350.5 413.8,355.7 C414.7,360.9 412.9,371.3 413.8,376.5 C414.7,381.7 418.1,385.2 419,387" fill="none" stroke-width="1.61" stroke="#fff"/>
<g transform="translate(371 329.5) rotate(27)"><rect x="0" y="-2.3" width="6" height="4.6" rx="2" fill="#fff" stroke="#000" stroke-width="1.2"/><rect x="6" y="-3.6" width="6" height="7.2" rx="1" fill="#fff" stroke="#000" stroke-width="1.2"/><line x1="8" y1="-3.6" x2="8" y2="3.6" stroke="#000" stroke-width="0.8"/><line x1="10" y1="-3.6" x2="10" y2="3.6" stroke="#000" stroke-width="0.8"/><rect x="12" y="-2.6" width="10" height="5.2" rx="1" fill="#fff" stroke="#000" stroke-width="1.1"/></g>
<g transform="translate(424.2 393.5) rotate(-115)"><rect x="-6" y="-3.8" width="12" height="7.6" rx="1.5" fill="#999" stroke="#000" stroke-width="1.4"/><rect x="-4" y="-2.2" width="3" height="4.4" fill="#fff" stroke="#000" stroke-width="0.6"/><rect x="0" y="-2.2" width="3" height="4.4" fill="#fff" stroke="#000" stroke-width="0.6"/><rect x="3.5" y="-3" width="2" height="6" fill="#222"/></g>
<path d="M354,321.2 L370,327.7" fill="none" stroke="#000" stroke-width="0.88" />
<path d="M144,480.6 L155.7,459.4 L162,463.9 L162,482.8 L157.5,489.1Z" fill="#000" stroke="#000" stroke-width="0.88" />
<path d="M157.5,459.8 L162.5,462.5 L158,465Z" fill="#fff" stroke-width="0.77" stroke="none"/>
<path d="M162,463.9 L189.9,453.6 L200.7,459.4 L197.1,461.2 L197.1,472 L191,470 L191,476 L184,474 L184,480 L177,478 L177,485.5 L168.3,483 L168.3,494.5 L157.5,489.1 L162,482.8" fill="#fff" stroke="#000" stroke-width="1.1" />
<path d="M164,465 L188,455" fill="none" stroke="#000" stroke-width="0.99" />
<path d="M168.3,483 L159,478.5" fill="none" stroke="#000" stroke-width="0.99" />
<path d="M177,478 L167,473" fill="none" stroke="#000" stroke-width="0.99" />
<path d="M184,474 L174,469" fill="none" stroke="#000" stroke-width="0.99" />
<path d="M191,470 L181,465.5" fill="none" stroke="#000" stroke-width="0.99" />
<path d="M189.9,453.6 L197.1,461.2" fill="none" stroke="#000" stroke-width="0.99" />
<text x="0" y="0" font-size="12.5" transform="translate(164.5 476) skewY(-21)" stroke="#000" stroke-width="0.6" style="font-family:'Liberation Sans',sans-serif">FRT</text>
<path d="M139.5,710.8 C141.8,710.3 147.9,708.9 153,708.1 C158.1,707.3 162.7,707 170,706 C177.3,705 188.6,703.9 196.9,702 C205.2,700.1 212.2,697.4 220,694.5 C227.8,691.6 239.9,686.5 243.9,684.9 L254,708.5 L254,708.5 C250,709.6 238.6,712.5 230,715 C221.4,717.5 211.7,721.2 202.5,723.5 C193.3,725.8 181.2,727.8 175,729 C168.8,730.2 169.6,729.8 165,731 C160.4,732.2 150.5,735.5 147.6,736.4Z" fill="#fff" stroke-width="0.0" stroke="none"/>
<path d="M139.5,710.8 C141.8,710.3 147.9,708.9 153,708.1 C158.1,707.3 162.7,707 170,706 C177.3,705 188.6,703.9 196.9,702 C205.2,700.1 212.2,697.4 220,694.5 C227.8,691.6 239.9,686.5 243.9,684.9" fill="none" stroke="#000" stroke-width="1.84" />
<path d="M147.6,736.4 C150.5,735.5 160.4,732.2 165,731 C169.6,729.8 168.8,730.2 175,729 C181.2,727.8 193.3,725.8 202.5,723.5 C211.7,721.2 221.4,717.5 230,715 C238.6,712.5 250,709.6 254,708.5" fill="none" stroke="#000" stroke-width="1.84" />
<path d="M54.4,752.6 L61.2,737 C63,733.5 66,732.4 69.3,732.4 C73,732.5 77,734 79,736 L87,744 C89,750 89.5,758 88.2,763.4 C86,768 82,771.5 78.7,771.5 C76,771.5 74,771 72,770.2 L59,761 Z" fill="#fff" stroke="#000" stroke-width="1.95" />
<path d="M58.5,752 C59.3,749.9 61.8,742.2 63.5,739.5 C65.2,736.8 66.9,736.3 69,736 C71.1,735.7 74.8,737.2 76,737.5" fill="none" stroke="#000" stroke-width="0.99" />
<path d="M59,754.5 C59.7,755.5 60.7,758.4 63,760.5 C65.3,762.6 71.3,765.9 73,767" fill="none" stroke="#000" stroke-width="0.99" />
<path d="M66,737 C70,735.5 75,736 79,738 L84,744 L72,746 Z" fill="#777" stroke="#000" stroke-width="0.66" />
<path d="M79,760 L87,757 C87.5,762 86,767 81,769 L77,768 Z" fill="#777" stroke="#000" stroke-width="0.66" />
<ellipse cx="73" cy="752" rx="3.5" ry="10" fill="#fff" stroke="#000" stroke-width="1.1" transform="rotate(-20 73 752)" />
<path d="M65.2,744.5 L90.9,733.1 L99,754.7 L77.4,762.1 Z" fill="#fff" stroke-width="0.0" stroke="none"/>
<path d="M65.2,744.5 L90.9,733.1" fill="none" stroke="#000" stroke-width="1.72" />
<path d="M77.4,762.1 L99,754.7" fill="none" stroke="#000" stroke-width="1.72" />
<path d="M90.9,744.5 C90.2,741.6 91.8,738 92.2,735.1 C92.7,732.2 92,729 93.6,727 C95.2,725 98.1,724.2 101.7,723 C105.3,721.8 112.1,720.9 115.2,719.6 C118.3,718.4 117.9,717 120.6,715.5 C123.3,714 128.5,711.6 131.4,710.8 C134.3,710 135.4,706.3 138.1,710.8 C140.8,715.3 147.8,732.4 147.6,737.8 C147.4,743.2 140.9,741.4 136.8,743.2 C132.8,745 128.2,746.7 123.3,748.6 C118.3,750.5 111.1,753.8 107.1,754.7 C103,755.6 100.8,754.4 99,754 C97.2,753.6 97.6,754.2 96.3,752.6 C95,751 91.6,747.4 90.9,744.5Z" fill="#fff" stroke="#000" stroke-width="1.84" />
<path d="M93.6,727 C93.2,728.5 91.3,732.8 91,736 C90.7,739.2 90.6,743.2 91.5,746 C92.4,748.8 95.5,751.5 96.3,752.6" fill="none" stroke="#000" stroke-width="2.3" />
<path d="M131.4,710.8 C131,712.7 128.9,718.5 129,722 C129.1,725.5 130.3,729.3 132,732 C133.7,734.7 137.8,737 139,738" fill="none" stroke="#000" stroke-width="1.61" />
<path d="M135,710.5 C134.7,712.2 132.8,717.6 133,721 C133.2,724.4 134.5,728.3 136,731 C137.5,733.7 141,736 142,737" fill="none" stroke="#000" stroke-width="1.1" />
<path d="M138.1,710.8 C138.3,712.7 138.7,718.6 139.5,722 C140.3,725.4 141.7,728.4 143,731 C144.3,733.6 146.8,736.7 147.6,737.8" fill="none" stroke="#000" stroke-width="1.49" />
<path d="M120,748 L121.5,747" fill="none" stroke="#000" stroke-width="1.1" />
<path d="M76,748 L76,807 L92.8,801.4" fill="none" stroke="#000" stroke-width="0.99" />
<path d="M62,747 L76,748" fill="none" stroke="#000" stroke-width="0.88" />
<path d="M54,755.5 L50.6,757.8" fill="none" stroke="#000" stroke-width="0.99" />
<path d="M96,794 L100,790.5 L105,792 L106,798 L102,802.5 L97,801Z" fill="#999" stroke="#000" stroke-width="1.72" />
<ellipse cx="101" cy="796.5" rx="2.3" ry="2.4" fill="#fff" stroke="#000" stroke-width="0.99" transform="rotate(0 101 796.5)" />
<path d="M108.3,795.8 L118,791" fill="none" stroke="#000" stroke-width="0.88" />
<path d="M121,790 L126.5,787.3" fill="none" stroke="#000" stroke-width="0.88" />
<path d="M265.3,655.5 L403,599 C410,596 415,594.5 420,594.8 C440,595 465,600 479,621.6 C484,632 484,650 476.2,661 L316,724.2 C305,726 285,723 271,717.2 C260,711 254,703 251.5,690 C250,678 254,665 265.3,655.5Z" fill="#fff" stroke="#000" stroke-width="1.95" />
<path d="M266,660 L404,604" fill="none" stroke="#000" stroke-width="1.1" />
<path d="M259,660 C258.3,662 255.8,667.3 255,672 C254.2,676.7 254,683 254.5,688 C255,693 255.8,697.8 258,702 C260.2,706.2 263.5,710 268,713 C272.5,716 278,718.2 285,720 C292,721.8 305.8,723.3 310,724" fill="none" stroke="#000" stroke-width="1.32" />
<path d="M264,658 C263.2,660.3 260.3,667 259.5,672 C258.7,677 258.6,683.3 259,688 C259.4,692.7 260,696.3 262,700 C264,703.7 266.7,707.2 271,710 C275.3,712.8 281.2,714.8 288,716.5 C294.8,718.2 308,719.4 312,720" fill="none" stroke="#000" stroke-width="0.99" />
<path d="M268,669.4 L334,643" fill="none" stroke="#000" stroke-width="0.99" />
<path d="M332,644 L403,616" fill="none" stroke="#000" stroke-width="0.99" />
<path d="M341.2,627.2 C340.1,628.7 335.9,632.5 334.5,636 C333.1,639.5 332.6,642.4 332.8,648 C333,653.6 333.9,664.4 335.6,669.4 C337.3,674.4 340.2,675.7 343,678 C345.8,680.3 348,681.6 352.5,683.4 C357,685.2 364.4,687.6 370,689 C375.6,690.4 383.5,691.4 386.2,691.9" fill="none" stroke="#000" stroke-width="1.21" />
<path d="M345,625.8 C343.9,627.3 339.8,631.3 338.5,635 C337.2,638.7 336.8,642.5 337,648 C337.2,653.5 337.9,663.3 339.6,668 C341.3,672.7 344.3,673.8 347,676 C349.7,678.2 351.7,679.2 356,681 C360.3,682.8 367.5,685 373,686.5 C378.5,688 386.3,689.4 389,690" fill="none" stroke="#000" stroke-width="0.88" />
<path d="M377.2,673.1 L416,661.3 L432.9,669.7 L394,681.5Z" fill="none" stroke="#000" stroke-width="0.99" />
<path d="M408.7,604.7 C412,599 425,596.5 436.9,597.7 C450,599 462,604 469,611 C477,619 480,634 479,649.7 C477,657 470,660 465,659.5 C455,659 445,656 436.9,652.5 C426,647 418,640 414.4,632.8 C410,626 407,612 408.7,604.7Z" fill="none" stroke="#000" stroke-width="1.49" />
<path d="M414,606 C418,601.5 428,600 438,601 C450,602.5 460,607 466,613 C473,620 475.5,633 475,647 C473,653 468,655.5 463,655 C452,653.5 443,650 436,646 C427,641 420,635 417,628 C413,620 412,611 414,606Z" fill="none" stroke="#000" stroke-width="0.88" />
<path d="M458,625 C462,622 470,620 478,618 L490,613.1 L490,635.6 L478,639 C472,641 466,643 462,643 Z" fill="#fff" stroke-width="0.0" stroke="none"/>
<path d="M462.2,624 C464.5,623.2 471.4,620.8 476,619 C480.6,617.2 487.7,614.1 490,613.1" fill="none" stroke="#000" stroke-width="1.49" />
<path d="M465,642 C467.2,641.5 473.8,640.1 478,639 C482.2,637.9 488,636.2 490,635.6" fill="none" stroke="#000" stroke-width="1.49" />
<ellipse cx="462" cy="633" rx="4.6" ry="10.5" fill="#fff" stroke="#000" stroke-width="1.49" transform="rotate(-15 462 633)" />
<ellipse cx="463" cy="633" rx="3" ry="8.5" fill="none" stroke="#000" stroke-width="0.88" transform="rotate(-15 463 633)" />
<path d="M452,622 C452.6,621 454.2,617 455.5,616 C456.8,615 459.6,614.5 460,616 C460.4,617.5 458.5,621.3 458,625 C457.5,628.7 456.7,634.7 457,638 C457.3,641.3 460.3,643.3 460,645 C459.7,646.7 455.8,647.5 455,648" fill="none" stroke="#000" stroke-width="0.99" />
<path d="M243.9,684.9 C243.7,686.8 242.2,692.5 242.5,696 C242.8,699.5 244.1,703.9 246,706 C247.9,708.1 252.7,708.1 254,708.5" fill="none" stroke="#000" stroke-width="1.49" />
<path d="M244,684.5 C244.3,684.1 244.7,682.7 246,682 C247.3,681.3 250.8,680.3 252,680.5 C253.2,680.7 253.2,682.6 253.5,683" fill="none" stroke="#000" stroke-width="1.21" />
<path d="M465,623.4 C467.8,622.5 478,619.7 482,618 C486,616.3 487.2,615.3 489,613 C490.8,610.7 491.8,609.5 492.5,604 C493.2,598.5 492.8,591 493.4,580 C494,569 495.4,547.4 496.3,537.8 C497.2,528.2 497,527.6 499.1,522.5 C501.2,517.4 505.4,510.8 508.7,507.2 C512,503.6 515.2,502.3 519,501 C522.8,499.7 527,499.4 531.6,499.6 C536.2,499.8 537.6,499.8 546.9,502.4 C556.1,504.9 572.1,509.3 587.1,514.9 C602.1,520.5 626.3,531.4 636.8,535.9 C647.3,540.4 647.8,540.6 650,541.6 L650,567.5 L650,567.5 C647.8,566.7 647.9,567.5 636.8,562.7 C625.7,557.9 600.5,545.3 583.3,538.8 C566.1,532.3 543.1,525.9 533.5,523.5 C523.9,521.1 528.1,522.6 525.9,524.4 C523.7,526.1 521.6,524.7 520.2,534 C518.8,543.3 517.8,568 517.3,580 C516.8,592 518.1,598.9 517,606 C515.9,613.1 514.2,618.1 510.7,622.9 C507.2,627.7 501.4,631.4 496,634.6 C490.6,637.8 481.4,640.8 478.5,642Z" fill="#fff" stroke-width="0.0" stroke="none"/>
<path d="M465,623.4 C467.8,622.5 478,619.7 482,618 C486,616.3 487.2,615.3 489,613 C490.8,610.7 491.8,609.5 492.5,604 C493.2,598.5 492.8,591 493.4,580 C494,569 495.4,547.4 496.3,537.8 C497.2,528.2 497,527.6 499.1,522.5 C501.2,517.4 505.4,510.8 508.7,507.2 C512,503.6 515.2,502.3 519,501 C522.8,499.7 527,499.4 531.6,499.6 C536.2,499.8 537.6,499.8 546.9,502.4 C556.1,504.9 572.1,509.3 587.1,514.9 C602.1,520.5 626.3,531.4 636.8,535.9 C647.3,540.4 647.8,540.6 650,541.6" fill="none" stroke="#000" stroke-width="1.84" />
<path d="M478.5,642 C481.4,640.8 490.6,637.8 496,634.6 C501.4,631.4 507.2,627.7 510.7,622.9 C514.2,618.1 515.9,613.1 517,606 C518.1,598.9 516.8,592 517.3,580 C517.8,568 518.8,543.3 520.2,534 C521.6,524.7 523.7,526.1 525.9,524.4 C528.1,522.6 523.9,521.1 533.5,523.5 C543.1,525.9 566.1,532.3 583.3,538.8 C600.5,545.3 625.7,557.9 636.8,562.7 C647.9,567.5 647.8,566.7 650,567.5" fill="none" stroke="#000" stroke-width="1.84" />
<path d="M441.9,581 C443.6,581.6 449.3,583.4 452,584.5 C454.7,585.6 456,586.3 458,587.8 C460,589.3 461.9,590.6 463.9,593.6 C465.9,596.6 468.1,601.9 470,606 C471.9,610.1 473.2,613.7 475.6,618.5 C478,623.3 481.6,631.1 484.3,634.6 C487,638.1 489.2,639.5 491.7,639.7 C494.1,639.9 497.8,636.6 499,636" fill="none" stroke="#000" stroke-width="5.29" />
<path d="M441.9,581 C443.6,581.6 449.3,583.4 452,584.5 C454.7,585.6 456,586.3 458,587.8 C460,589.3 461.9,590.6 463.9,593.6 C465.9,596.6 468.1,601.9 470,606 C471.9,610.1 473.2,613.7 475.6,618.5 C478,623.3 481.6,631.1 484.3,634.6 C487,638.1 489.2,639.5 491.7,639.7 C494.1,639.9 497.8,636.6 499,636" fill="none" stroke-width="2.76" stroke="#fff"/>
<path d="M449.2,579 C451.4,579.6 457.3,582.1 462.4,582.7 C467.5,583.3 474.6,582.5 480,582.4 C485.4,582.3 492.2,582.1 494.6,582" fill="none" stroke="#000" stroke-width="5.29" />
<path d="M449.2,579 C451.4,579.6 457.3,582.1 462.4,582.7 C467.5,583.3 474.6,582.5 480,582.4 C485.4,582.3 492.2,582.1 494.6,582" fill="none" stroke-width="2.76" stroke="#fff"/>
<path d="M501.9,595.1 C503.6,594.9 509.3,594.6 512,594 C514.7,593.4 516.5,592.4 518,591.5 C519.5,590.6 520.5,589 521,588.5" fill="none" stroke="#000" stroke-width="4.83" />
<path d="M501.9,595.1 C503.6,594.9 509.3,594.6 512,594 C514.7,593.4 516.5,592.4 518,591.5 C519.5,590.6 520.5,589 521,588.5" fill="none" stroke-width="2.3" stroke="#fff"/>
<path d="M516,584 L538.5,590.7" fill="none" stroke="#000" stroke-width="5.98" />
<path d="M516,584 L538.5,590.7" fill="none" stroke-width="3.45" stroke="#fff"/>
<path d="M424.4,575.3 L441.9,581.5" fill="none" stroke="#000" stroke-width="6.32" />
<path d="M424.4,575.3 L441.9,581.5" fill="none" stroke-width="3.79" stroke="#fff"/>
<path d="M433,576.5 L434,580.5" fill="none" stroke="#000" stroke-width="2.07" />
<rect x="377.2" y="535.7" width="16.9" height="35.4" rx="8.5" fill="#fff" stroke="#000" stroke-width="2.1"/>
<rect x="378.2" y="537.7" width="10.1" height="31.4" rx="5.1" fill="#eee" stroke="#000" stroke-width="1.6"/>
<ellipse cx="383.3" cy="545.6" rx="2.5" ry="3" fill="#fff" stroke="#000" stroke-width="1.84" transform="rotate(0 383.3 545.6)" />
<ellipse cx="383.3" cy="545.6" rx="0.8" ry="1.1" fill="#000" stroke="#000" stroke-width="1.1" transform="rotate(0 383.3 545.6)" />
<ellipse cx="383.3" cy="559.8" rx="2.5" ry="3" fill="#fff" stroke="#000" stroke-width="1.84" transform="rotate(0 383.3 559.8)" />
<ellipse cx="383.3" cy="559.8" rx="0.8" ry="1.1" fill="#000" stroke="#000" stroke-width="1.1" transform="rotate(0 383.3 559.8)" />
<path d="M380.7,551.6 L385.8,553.4" fill="none" stroke="#000" stroke-width="1.49" />
<path d="M388.2,542.8 L388.2,564" fill="none" stroke="#000" stroke-width="0.88" />
<path d="M348.6,547.5 L377.2,557.6" fill="none" stroke="#000" stroke-width="0.88" stroke-dasharray="12 4 4 4"/>
<path d="M397.5,566 L422.8,576.2" fill="none" stroke="#000" stroke-width="0.88" />
<rect x="573" y="584.6" width="18.6" height="32.1" rx="9.3" fill="#fff" stroke="#000" stroke-width="2.1"/>
<rect x="574" y="586.6" width="11.2" height="28.1" rx="5.6" fill="#eee" stroke="#000" stroke-width="1.6"/>
<ellipse cx="579.6" cy="593.6" rx="2.8" ry="2.7" fill="#fff" stroke="#000" stroke-width="1.84" transform="rotate(0 579.6 593.6)" />
<ellipse cx="579.6" cy="593.6" rx="0.9" ry="1" fill="#000" stroke="#000" stroke-width="1.1" transform="rotate(0 579.6 593.6)" />
<ellipse cx="579.6" cy="606.4" rx="2.8" ry="2.7" fill="#fff" stroke="#000" stroke-width="1.84" transform="rotate(0 579.6 606.4)" />
<ellipse cx="579.6" cy="606.4" rx="0.9" ry="1" fill="#000" stroke="#000" stroke-width="1.1" transform="rotate(0 579.6 606.4)" />
<path d="M576.8,599 L582.4,600.7" fill="none" stroke="#000" stroke-width="1.49" />
<path d="M585.1,591 L585.1,610.3" fill="none" stroke="#000" stroke-width="0.88" />
<path d="M539.2,593 L573,604.9" fill="none" stroke="#000" stroke-width="0.88" />
<path d="M596.6,611.6 L628.7,623.4" fill="none" stroke="#000" stroke-width="0.88" stroke-dasharray="12 4 4 4"/>
<rect x="429.6" y="699.4" width="16.8" height="32" rx="8.4" fill="#fff" stroke="#000" stroke-width="2.1"/>
<rect x="430.6" y="701.4" width="10.1" height="28" rx="5" fill="#eee" stroke="#000" stroke-width="1.6"/>
<ellipse cx="435.6" cy="708.4" rx="2.5" ry="2.7" fill="#fff" stroke="#000" stroke-width="1.84" transform="rotate(0 435.6 708.4)" />
<ellipse cx="435.6" cy="708.4" rx="0.8" ry="1" fill="#000" stroke="#000" stroke-width="1.1" transform="rotate(0 435.6 708.4)" />
<ellipse cx="435.6" cy="721.2" rx="2.5" ry="2.7" fill="#fff" stroke="#000" stroke-width="1.84" transform="rotate(0 435.6 721.2)" />
<ellipse cx="435.6" cy="721.2" rx="0.8" ry="1" fill="#000" stroke="#000" stroke-width="1.1" transform="rotate(0 435.6 721.2)" />
<path d="M433.1,713.8 L438.2,715.4" fill="none" stroke="#000" stroke-width="1.49" />
<path d="M440.5,705.8 L440.5,725" fill="none" stroke="#000" stroke-width="0.88" />
<path d="M380.6,702.7 L431.2,721.3" fill="none" stroke="#000" stroke-width="0.88" />
<path d="M449.8,728 L481.9,738.2" fill="none" stroke="#000" stroke-width="0.88" stroke-dasharray="12 4 4 4"/>
<rect x="751" y="447" width="16.8" height="32" rx="8.4" fill="#fff" stroke="#000" stroke-width="2.1"/>
<rect x="752" y="449" width="10.1" height="28" rx="5" fill="#eee" stroke="#000" stroke-width="1.6"/>
<ellipse cx="757" cy="456" rx="2.5" ry="2.7" fill="#fff" stroke="#000" stroke-width="1.84" transform="rotate(0 757 456)" />
<ellipse cx="757" cy="456" rx="0.8" ry="1" fill="#000" stroke="#000" stroke-width="1.1" transform="rotate(0 757 456)" />
<ellipse cx="757" cy="468.8" rx="2.5" ry="2.7" fill="#fff" stroke="#000" stroke-width="1.84" transform="rotate(0 757 468.8)" />
<ellipse cx="757" cy="468.8" rx="0.8" ry="1" fill="#000" stroke="#000" stroke-width="1.1" transform="rotate(0 757 468.8)" />
<path d="M754.5,461.4 L759.6,463" fill="none" stroke="#000" stroke-width="1.49" />
<path d="M761.9,453.4 L761.9,472.6" fill="none" stroke="#000" stroke-width="0.88" />
<path d="M725.6,458 L753.7,466.6" fill="none" stroke="#000" stroke-width="0.88" />
<path d="M725.6,458 L725.6,524.2" fill="none" stroke="#000" stroke-width="0.88" />
<path d="M772,473.6 L804.4,486.2" fill="none" stroke="#000" stroke-width="0.88" stroke-dasharray="18 4 5 4"/>
<rect x="613.9" y="733.2" width="24.8" height="50.4" rx="12.4" fill="#fff" stroke="#000" stroke-width="2.1"/>
<rect x="614.9" y="735.2" width="14.9" height="46.4" rx="7.4" fill="#eee" stroke="#000" stroke-width="1.6"/>
<ellipse cx="622.3" cy="747.3" rx="3.7" ry="4.3" fill="#fff" stroke="#000" stroke-width="1.84" transform="rotate(0 622.3 747.3)" />
<ellipse cx="622.3" cy="747.3" rx="1.2" ry="1.5" fill="#000" stroke="#000" stroke-width="1.1" transform="rotate(0 622.3 747.3)" />
<ellipse cx="622.3" cy="767.5" rx="3.7" ry="4.3" fill="#fff" stroke="#000" stroke-width="1.84" transform="rotate(0 622.3 767.5)" />
<ellipse cx="622.3" cy="767.5" rx="1.2" ry="1.5" fill="#000" stroke="#000" stroke-width="1.1" transform="rotate(0 622.3 767.5)" />
<path d="M618.6,755.9 L626.1,758.4" fill="none" stroke="#000" stroke-width="1.49" />
<path d="M630,743.3 L630,773.5" fill="none" stroke="#000" stroke-width="0.88" />
<path d="M577.3,750 L618.3,765.3" fill="none" stroke="#000" stroke-width="0.99" />
<path d="M577.3,750 L577.3,780" fill="none" stroke="#000" stroke-width="0.99" />
<path d="M577.3,786 L577.3,836" fill="none" stroke="#000" stroke-width="0.99" />
<path d="M644.6,774.1 L676,785.5" fill="none" stroke="#000" stroke-width="0.99" />
<path d="M679,786.6 L684,788.7" fill="none" stroke="#000" stroke-width="0.99" />
<ellipse cx="762.6" cy="542.2" rx="124.8" ry="124.3" fill="none" stroke="#000" stroke-width="2.01" transform="rotate(0 762.6 542.2)" />
<path d="M650,541.6 C653.3,543.1 664.3,548.7 670,550.7 C675.7,552.7 681.8,553.3 684.2,553.8" fill="none" stroke="#000" stroke-width="1.72" />
<path d="M650,567.5 C653.3,568.8 663.2,573.5 670,575.1 C676.8,576.8 687.1,577 690.5,577.4" fill="none" stroke="#000" stroke-width="1.72" />
<path d="M696.8,534.9 L712.5,532.6 L789.7,516 C793,516 796,518 799.1,530.2 C801.5,540 802.5,553 802.3,563.3 C802,567 800.5,569 799.1,569.6 L711,586.9 C708,587 705.5,586.5 704.6,585.3 C701,580 698,571 697,560 C696,551 696,541 696.8,534.9Z" fill="#fff" stroke="#000" stroke-width="1.84" />
<path d="M712.5,537.3 L770.8,523.9" fill="none" stroke="#000" stroke-width="0.99" />
<path d="M712.5,539.3 L770.8,526" fill="none" stroke="#000" stroke-width="0.77" />
<path d="M712.5,552.2 L770.8,538.9" fill="none" stroke="#000" stroke-width="1.1" />
<path d="M730,530 L730.8,548" fill="none" stroke="#000" stroke-width="1.84" />
<path d="M731.6,529.7 L732.4,547.7" fill="none" stroke="#000" stroke-width="0.77" />
<path d="M754.5,524.5 L755.3,543" fill="none" stroke="#000" stroke-width="1.84" />
<path d="M756.1,524.2 L756.9,542.7" fill="none" stroke="#000" stroke-width="0.77" />
<path d="M707,533.5 C706.5,535.4 704.4,540.6 704,545 C703.6,549.4 703.8,555 704.5,560 C705.2,565 706.6,570.7 708,575 C709.4,579.3 712.2,584.2 713,586" fill="none" stroke="#000" stroke-width="1.1" />
<path d="M711.5,532.8 C711.1,534.8 709.3,540.5 709,545 C708.7,549.5 708.8,555 709.5,560 C710.2,565 711.6,570.8 713,575 C714.4,579.2 717.2,583.8 718,585.5" fill="none" stroke="#000" stroke-width="1.1" />
<path d="M771,519.5 C771.1,522.1 770.8,529.6 771.5,535 C772.2,540.4 773.4,546 775,552 C776.6,558 780,567.8 781,571" fill="none" stroke="#000" stroke-width="1.1" />
<path d="M776.5,518.3 C776.6,521.1 776.2,529.5 777,535 C777.8,540.5 779.3,545.2 781,551 C782.7,556.8 786,566.8 787,570" fill="none" stroke="#000" stroke-width="1.1" />
<path d="M786,518.5 C790,520 793,530 795,545 C796.5,555 797,563 795.5,568 L792,569 C792,558 790,540 786,527 Z" fill="#777" stroke="#000" stroke-width="0.88" />
<g transform="rotate(-7 691 555)"><rect x="688" y="530" width="6" height="51" rx="3" fill="#fff" stroke="#000" stroke-width="1.3"/><rect x="690" y="533" width="2" height="45" rx="1" fill="none" stroke="#000" stroke-width="0.8"/><rect x="683.5" y="538" width="4.5" height="11" rx="1" fill="#fff" stroke="#000" stroke-width="1.1"/><rect x="683.5" y="554" width="4.5" height="13" rx="1" fill="#fff" stroke="#000" stroke-width="1.1"/></g>
<ellipse cx="693" cy="578.5" rx="2.6" ry="2.4" fill="#fff" stroke="#000" stroke-width="1.21" transform="rotate(0 693 578.5)" />
<ellipse cx="693" cy="531" rx="2.8" ry="2.1" fill="#fff" stroke="#000" stroke-width="1.21" transform="rotate(0 693 531)" />
<path d="M799,528.6 C800.8,528.3 805.7,526.3 810,527 C814.3,527.7 817.5,529 825,533 C832.5,537 850,548 855,551" fill="none" stroke="#000" stroke-width="1.72" />
<path d="M802,552.2 C804.2,552.1 810.7,550.7 815,551.5 C819.3,552.3 824.2,555 828,557 C831.8,559 836.3,562.5 838,563.6" fill="none" stroke="#000" stroke-width="1.72" />
<ellipse cx="852" cy="557.3" rx="14" ry="5.5" fill="#fff" stroke="#000" stroke-width="1.61" transform="rotate(-15 852 557.3)" />
<path d="M404.8,830.7 C414,834.4 443.3,846 460,853 C476.7,860 495.3,868.9 505,872.5 C514.7,876.1 516,874.3 518.2,874.7" fill="none" stroke="#000" stroke-width="1.72" />
<path d="M394,857.7 C403.3,861.4 432.9,872.6 450,880 C467.1,887.4 485.8,897.7 496.6,902 C507.4,906.3 509.2,905.2 515,906 C520.8,906.8 528.6,906.4 531.3,906.5" fill="none" stroke="#000" stroke-width="1.72" />
<path d="M406.8,829.6 C401,830.5 399,837 400.5,843.5 C396,845.5 393,851 394,856 C394.5,858 395,859 395.7,859.3" fill="none" stroke="#000" stroke-width="1.61" />
<path d="M400.5,843.5 C404,846 404.5,852 400.5,856.5 C399,858 397,858.5 395.7,858.5" fill="none" stroke="#000" stroke-width="1.32" />
<path d="M352.4,822.1 L357.3,824.6" fill="none" stroke="#000" stroke-width="0.99" />
<path d="M362.2,827.1 L391.7,840.7" fill="none" stroke="#000" stroke-width="0.99" />
<path d="M537.9,849.5 L559.8,845.1 L662.9,823.2 C665,823.5 666.5,824 667.3,825.4 C670,830 672,834 673.9,838.5 C677,846 680,853 680.5,860.4 C681,868 681,878 680.5,884.6 C680,889 678.5,892 676.1,893.4 L555.4,919.7 C552,919.5 550,918.5 548.9,917.5 C544,911 541,903 540.1,897.7 C538,888 537,880 536.8,873.6 C536.5,865 537,856 537.9,849.5Z" fill="#fff" stroke="#000" stroke-width="1.95" />
<path d="M559.8,855 L636.6,836.3" fill="none" stroke="#000" stroke-width="0.99" />
<path d="M559.8,857.3 L636.6,838.6" fill="none" stroke="#000" stroke-width="0.77" />
<path d="M559.8,873.6 L636.6,855" fill="none" stroke="#000" stroke-width="1.1" />
<path d="M582.9,843 L583.7,868" fill="none" stroke="#000" stroke-width="1.95" />
<path d="M584.9,842.6 L585.7,867.6" fill="none" stroke="#000" stroke-width="0.77" />
<path d="M614.7,835.5 L615.5,860" fill="none" stroke="#000" stroke-width="1.95" />
<path d="M616.7,835.1 L617.5,859.6" fill="none" stroke="#000" stroke-width="0.77" />
<path d="M549,847.5 C548.5,849.9 546.3,856.2 546,862 C545.7,867.8 546.2,875.3 547,882 C547.8,888.7 549.3,895.8 551,902 C552.7,908.2 556,916.2 557,919" fill="none" stroke="#000" stroke-width="1.1" />
<path d="M556,846 C555.5,848.7 553.3,856 553,862 C552.7,868 553.2,875.3 554,882 C554.8,888.7 556.3,895.9 558,902 C559.7,908.1 563,915.8 564,918.5" fill="none" stroke="#000" stroke-width="1.1" />
<path d="M638.5,829 C638.7,832.5 638.8,842.8 639.5,850 C640.2,857.2 641.2,863.8 643,872 C644.8,880.2 648.8,894.5 650,899" fill="none" stroke="#000" stroke-width="1.1" />
<path d="M646.5,827.3 C646.7,831.1 646.8,842.7 647.5,850 C648.2,857.3 649.2,863.1 651,871 C652.8,878.9 656.8,893.1 658,897.5" fill="none" stroke="#000" stroke-width="1.1" />
<path d="M662,826 C667,830 671,845 674,860 C676,872 677,882 675,890 L671,891 C672,878 670,855 664,838 Z" fill="#777" stroke="#000" stroke-width="0.88" />
<g transform="rotate(-7 533 875)"><rect x="529.5" y="843" width="7" height="65" rx="3.5" fill="#fff" stroke="#000" stroke-width="1.3"/><rect x="531.8" y="846" width="2.4" height="59" rx="1.2" fill="none" stroke="#000" stroke-width="0.8"/><rect x="524" y="853" width="5.5" height="14" rx="1" fill="#fff" stroke="#000" stroke-width="1.2"/><rect x="524" y="873" width="5.5" height="17" rx="1" fill="#fff" stroke="#000" stroke-width="1.2"/></g>
<ellipse cx="536.5" cy="906" rx="3" ry="2.8" fill="#fff" stroke="#000" stroke-width="1.32" transform="rotate(0 536.5 906)" />
<ellipse cx="536" cy="843" rx="3.4" ry="2.4" fill="#fff" stroke="#000" stroke-width="1.32" transform="rotate(0 536 843)" />
<path d="M668,841.5 C673.3,840.2 688,836.4 700,833.5 C712,830.6 723.7,827.8 740,824 C756.3,820.2 788,813.2 797.6,811" fill="none" stroke="#000" stroke-width="1.72" />
<path d="M672,873.5 C676.7,872.2 688.7,868.9 700,866 C711.3,863.1 726.2,859.3 740,856 C753.8,852.7 775.5,847.7 782.6,846" fill="none" stroke="#000" stroke-width="1.72" />
<ellipse cx="790.5" cy="829.5" rx="10.5" ry="19.5" fill="#fff" stroke="#000" stroke-width="1.72" transform="rotate(38 790.5 829.5)" />
</svg></body></html>
